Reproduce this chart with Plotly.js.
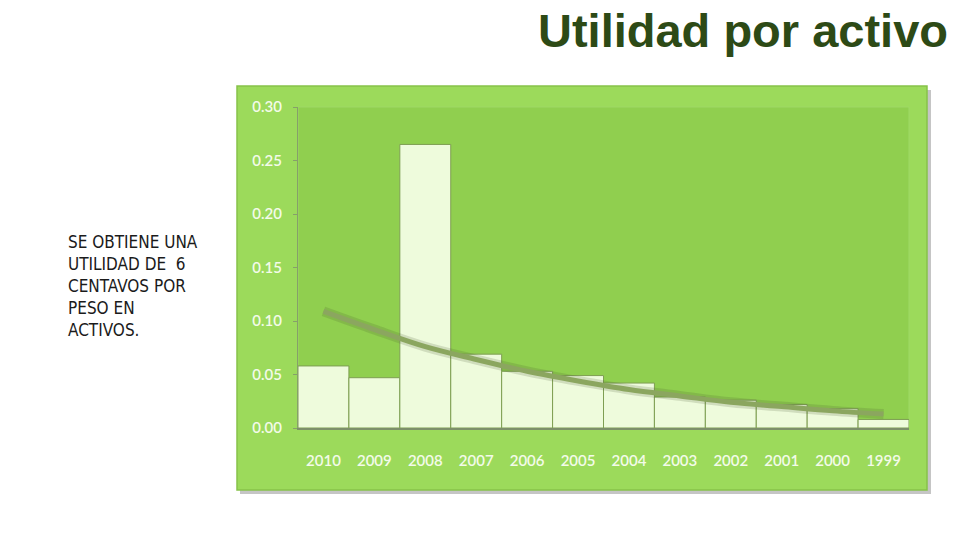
<!DOCTYPE html>
<html>
<head>
<meta charset="utf-8">
<script src="https://cdn.plot.ly/plotly-3.0.1.min.js"></script>
<style>
  html, body { margin: 0; padding: 0; background: #ffffff; }
  #chart { width: 960px; height: 540px; }
</style>
</head>
<body>
<div id="chart"></div>
<script>
// años, de más reciente a más antiguo
var years = ['2010', '2009', '2008', '2007', '2006', '2005', '2004', '2003', '2002', '2001', '2000', '1999'];
// utilidad por activo
var utilidad = [0.058, 0.047, 0.265, 0.069, 0.053, 0.049, 0.042, 0.029, 0.026, 0.022, 0.018, 0.008];
// línea de tendencia
var tendencia = [0.109, 0.092, 0.076, 0.064, 0.053, 0.044, 0.036, 0.030, 0.024, 0.020, 0.016, 0.013];
var yTicks = [0, 0.05, 0.10, 0.15, 0.20, 0.25, 0.30];

var notaLineas = ['SE OBTIENE UNA', 'UTILIDAD DE  6', 'CENTAVOS POR', 'PESO EN', 'ACTIVOS.'];

var W = 960, H = 540;
var m = { l: 298, r: 51, t: 107, b: 112 };
var pw = W - m.l - m.r, ph = H - m.t - m.b;

// pixel -> paper
function px(x) { return (x - m.l) / pw; }
function py(y) { return (H - m.b - y) / ph; }

var bars = {
  x: years,
  y: utilidad,
  type: 'bar',
  marker: { color: '#eefbdc', line: { color: '#7e9e52', width: 1 } },
  hoverinfo: 'x+y'
};

var trendShadow = {
  x: years,
  y: tendencia,
  type: 'scatter',
  mode: 'lines',
  line: { color: 'rgba(70,90,50,0.18)', width: 10, shape: 'spline' },
  hoverinfo: 'skip'
};

var trend = {
  x: years,
  y: tendencia,
  type: 'scatter',
  mode: 'lines',
  line: { color: '#8ba65f', width: 5, shape: 'spline' },
  hoverinfo: 'skip'
};

var notas = notaLineas.map(function (t, i) {
  return {
    text: t,
    xref: 'paper', yref: 'paper',
    x: px(66), y: py(242 + i * 22),
    xanchor: 'left', yanchor: 'middle',
    showarrow: false,
    font: { family: 'Liberation Sans Narrow, DejaVu Sans Condensed, Lato, sans-serif', size: 17, color: '#1b1b1b' }
  };
});

notas.push({
  text: '<b>Utilidad por activo</b>',
  xref: 'paper', yref: 'paper',
  x: px(950), y: py(30),
  xanchor: 'right', yanchor: 'middle',
  showarrow: false,
  font: { family: 'Liberation Sans, Arial, sans-serif', size: 47, color: '#2d4a16' }
});

var tickFont = { family: 'Lato, sans-serif', size: 15, color: '#f3fbe9', weight: 600 };

var layout = {
  width: W, height: H,
  margin: m,
  paper_bgcolor: '#ffffff',
  plot_bgcolor: 'rgba(0,0,0,0)',
  showlegend: false,
  bargap: 0,
  xaxis: {
    type: 'category',
    showgrid: false,
    showline: true, linecolor: '#7d8f6a', linewidth: 2,
    ticks: '',
    ticklabelstandoff: 18,
    tickfont: tickFont,
    fixedrange: true
  },
  yaxis: {
    range: [0, 0.30],
    tickvals: yTicks,
    tickformat: '.2f',
    showgrid: false,
    zeroline: false,
    showline: true, linecolor: '#86a06a', linewidth: 1,
    ticks: 'outside', ticklen: 4, tickcolor: '#86a06a',
    ticklabelstandoff: 8,
    tickfont: tickFont,
    fixedrange: true
  },
  shapes: [
    // sombra del marco
    { type: 'rect', xref: 'paper', yref: 'paper', layer: 'below',
      x0: px(240), x1: px(931), y0: py(494), y1: py(90),
      fillcolor: 'rgba(90,90,90,0.35)', line: { width: 0 } },
    // marco
    { type: 'rect', xref: 'paper', yref: 'paper', layer: 'below',
      x0: px(237), x1: px(927), y0: py(490), y1: py(86),
      fillcolor: '#9cda5b', line: { color: '#86c249', width: 1.5 } },
    // área de trazado
    { type: 'rect', xref: 'paper', yref: 'paper', layer: 'below',
      x0: 0, x1: px(909), y0: 0, y1: 1,
      fillcolor: '#90cf4f', line: { color: '#9ed866', width: 1 } }
  ],
  annotations: notas
};

Plotly.newPlot('chart', [bars, trendShadow, trend], layout, { staticPlot: true, displayModeBar: false });
</script>
</body>
</html>
